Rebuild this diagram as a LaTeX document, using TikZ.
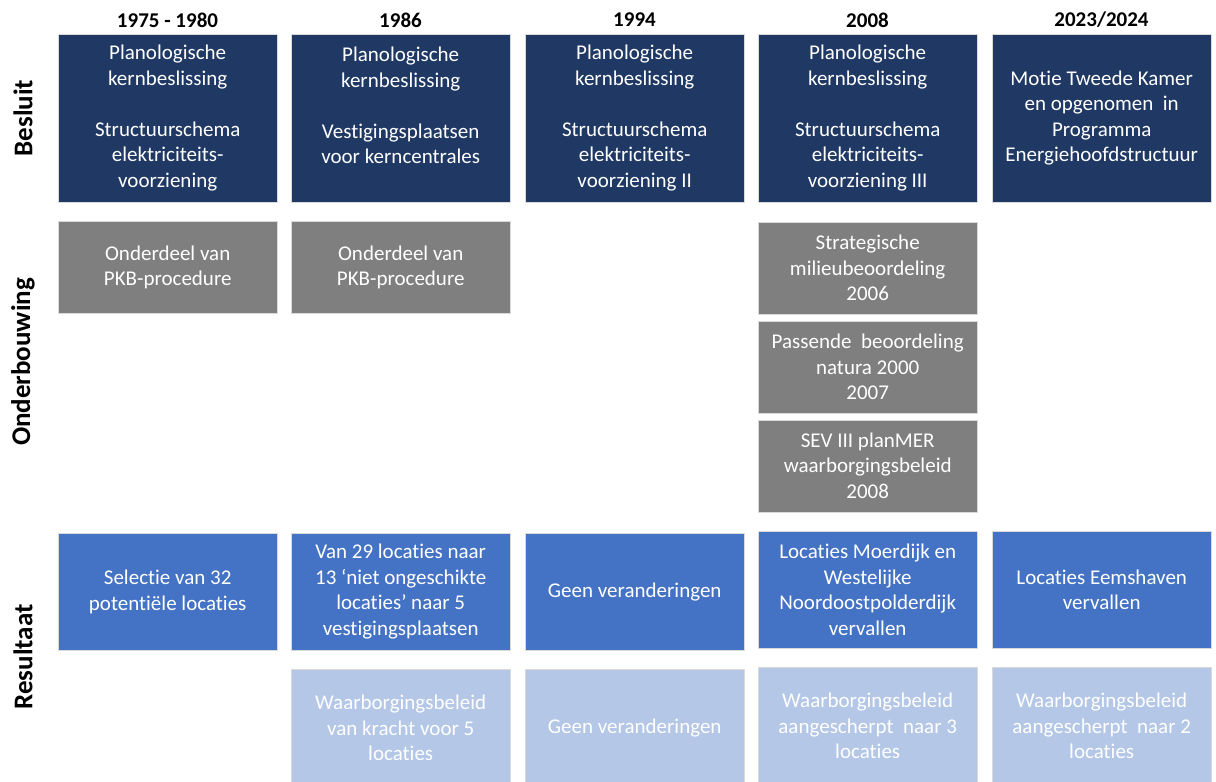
\documentclass[tikz,border=0pt]{standalone}
\usepackage{fontspec}
\setmainfont[Ligatures=NoCommon]{Carlito}
\definecolor{navy}{RGB}{31,56,100}
\definecolor{greybox}{RGB}{127,127,127}
\definecolor{bluebox}{RGB}{68,114,196}
\definecolor{lightbox}{RGB}{180,199,231}
\begin{document}
\begin{tikzpicture}[x=1pt,y=-1pt,
  box/.style={anchor=north west,inner sep=0pt,align=center,text=white,
    font=\fontsize{21}{25.5}\selectfont,draw=white!85!black,line width=0.4pt},
  besluit/.style={box,fill=navy},
  grijs/.style={box,fill=greybox},
  blauw/.style={box,fill=bluebox},
  licht/.style={box,fill=lightbox},
  header/.style={font=\fontsize{21}{24}\selectfont\bfseries},
  rowlabel/.style={font=\fontsize{27}{30}\selectfont\bfseries,rotate=90}]
\useasboundingbox (0,0) rectangle (1216,782);
% headers
\node[header] (h1) at (167.5,20) {1975 - 1980};
\node[header] (h2) at (400.5,20) {1986};
\node[header] (h3) at (634.5,20) {1994};
\node[header] (h4) at (867.5,20) {2008};
\node[header] (h5) at (1101.5,20) {2023/2024};
% row labels
\node[rowlabel] (lb) at (23,118) {Besluit};
\node[rowlabel] (lo) at (23,362) {Onderbouwing};
\node[rowlabel] (lr) at (23,657) {Resultaat};
% Besluit
\node[besluit,minimum width=219pt,minimum height=168pt] (b1) at (58,34) {Planologische\\kernbeslissing\\[25.5pt]Structuurschema\\elektriciteits-\\voorziening};
\node[besluit,minimum width=219pt,minimum height=168pt] (b2) at (291,34) {Planologische\\kernbeslissing\\[25.5pt]Vestigingsplaatsen\\voor kerncentrales\\\mbox{}};
\node[besluit,minimum width=219pt,minimum height=168pt] (b3) at (525,34) {Planologische\\kernbeslissing\\[25.5pt]Structuurschema\\elektriciteits-\\voorziening II};
\node[besluit,minimum width=219pt,minimum height=168pt] (b4) at (758,34) {Planologische\\kernbeslissing\\[25.5pt]Structuurschema\\elektriciteits-\\voorziening III};
\node[besluit,minimum width=219pt,minimum height=168pt] (b5) at (992,34) {Motie Tweede Kamer\\en opgenomen\ \ in\\Programma\\Energiehoofdstructuur};
% Onderbouwing
\node[grijs,minimum width=219pt,minimum height=92pt] (o1) at (58,221) {Onderdeel van\\PKB-procedure};
\node[grijs,minimum width=219pt,minimum height=92pt] (o2) at (291,221) {Onderdeel van\\PKB-procedure};
\node[grijs,minimum width=219pt,minimum height=92pt] (o4a) at (758,222) {Strategische\\milieubeoordeling\\2006};
\node[grijs,minimum width=219pt,minimum height=92pt] (o4b) at (758,321) {Passende\ \ beoordeling\\natura 2000\\2007};
\node[grijs,minimum width=219pt,minimum height=92pt] (o4c) at (758,419.5) {SEV III planMER\\waarborgingsbeleid\\2008};
% Resultaat
\node[blauw,minimum width=219pt,minimum height=117pt] (r1) at (58,533) {Selectie van 32\\potenti\"ele locaties};
\node[blauw,minimum width=219pt,minimum height=117pt] (r2) at (291,533) {Van 29 locaties naar\\13 ‘niet ongeschikte\\locaties’ naar 5\\vestigingsplaatsen};
\node[blauw,minimum width=219pt,minimum height=117pt] (r3) at (525,533) {Geen veranderingen};
\node[blauw,minimum width=219pt,minimum height=117pt] (r4) at (758,531) {Locaties Moerdijk en\\Westelijke\\Noordoostpolderdijk\\vervallen};
\node[blauw,minimum width=219pt,minimum height=117pt] (r5) at (992,531) {Locaties Eemshaven\\vervallen};
\node[licht,minimum width=219pt,minimum height=118pt] (s2) at (291,669) {Waarborgingsbeleid\\van kracht voor 5\\locaties};
\node[licht,minimum width=219pt,minimum height=118pt] (s3) at (525,669) {Geen veranderingen};
\node[licht,minimum width=219pt,minimum height=118pt] (s4) at (758,667) {Waarborgingsbeleid\\aangescherpt\ \ naar 3\\locaties};
\node[licht,minimum width=219pt,minimum height=118pt] (s5) at (992,667) {Waarborgingsbeleid\\aangescherpt\ \ naar 2\\locaties};
\end{tikzpicture}
\end{document}
